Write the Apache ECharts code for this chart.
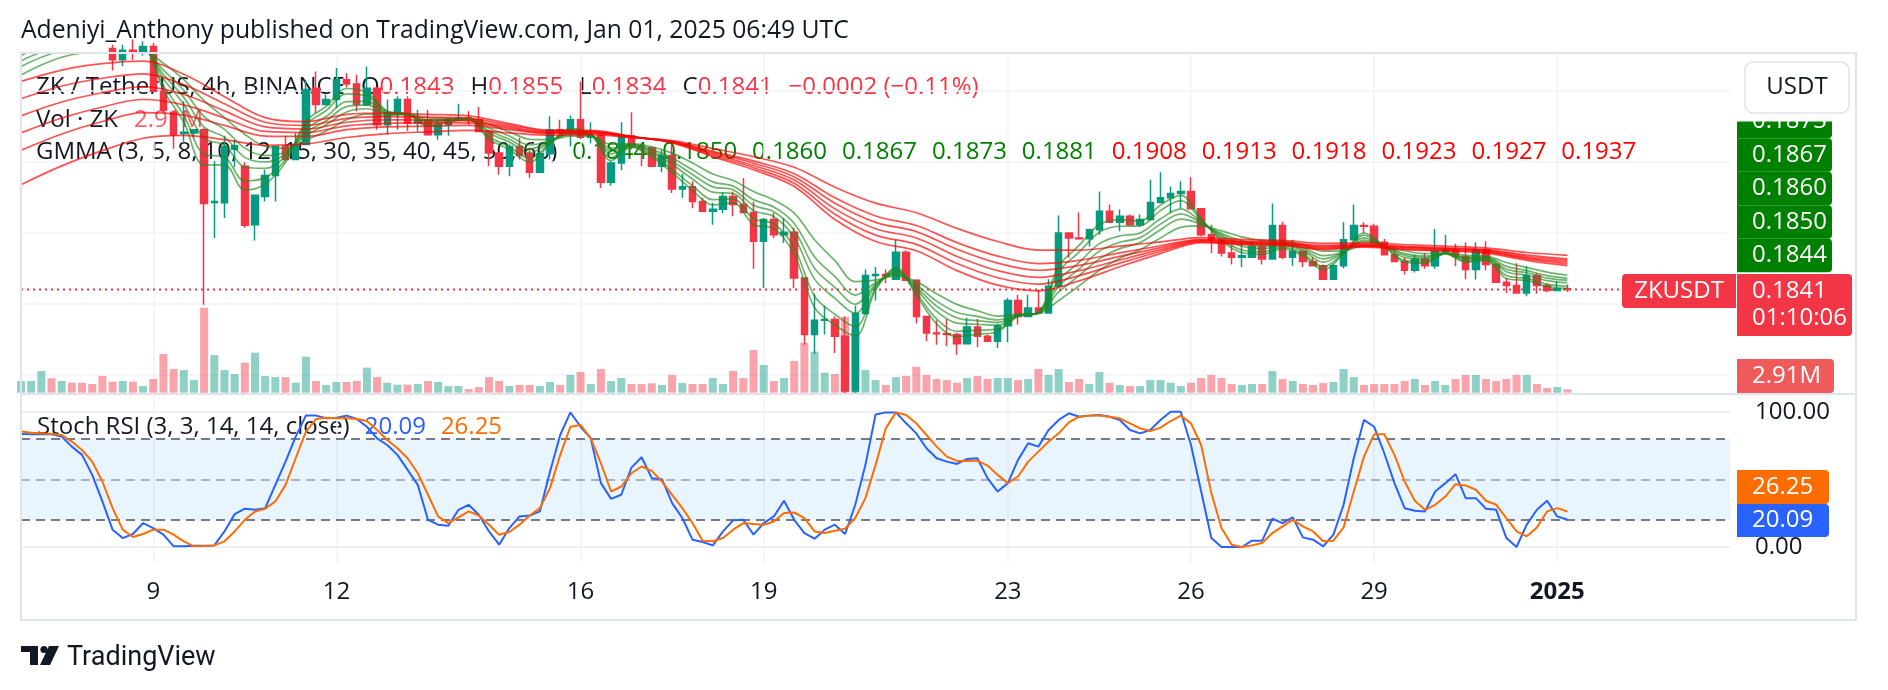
<!DOCTYPE html>
<html>
<head>
<meta charset="utf-8">
<title>ZK / TetherUS 4h</title>
<script src="https://cdn.jsdelivr.net/npm/echarts@6/dist/echarts.min.js"></script>
<style>
html,body{margin:0;padding:0;background:#ffffff;}
#chart{width:1888px;height:690px;}
</style>
</head>
<body>
<div id="chart"></div>
<script>
// ================= DATA =================
const firstBarTime = '2024-12-06T20:00:00Z';
const barHours = 4;
const rightPaddingBars = 16;
const tickLabels = {
  '2024-12-09 00:00':'9','2024-12-12 00:00':'12','2024-12-16 00:00':'16','2024-12-19 00:00':'19',
  '2024-12-23 00:00':'23','2024-12-26 00:00':'26','2024-12-29 00:00':'29','2025-01-01 00:00':'2025'
};

const opens = [
.2535,.2555,.2565,.2575,.2560,.2570,.2550,.2540,.2530,.2520,
.2488,.2515,.2508,.2525,.2399,.2340,.2280,.2282,.2291,.2086,
.2085,.2236,.2188,.2023,.2103,.2162,.2244,.2207,.2249,.2408,
.2362,.2376,.2432,.2420,.2362,.2408,.2305,.2338,.2376,.2310,
.2319,.2277,.2305,.2321,.2324,.2320,.2286,.2225,.2188,.2244,
.2223,.2171,.2223,.2291,.2288,.2319,.2270,.2275,.2143,.2197,
.2274,.2244,.2240,.2188,.2218,.2124,.2130,.2089,.2061,.2067,
.2103,.2080,.2058,.1977,.2038,.1995,.2002,.1873,.1714,.1754,
.1756,.1709,.1555,.1773,.1880,.1883,.1870,.1946,.1867,.1765,
.1718,.1716,.1714,.1688,.1735,.1709,.1695,.1739,.1810,.1765,
.1789,.1775,.1850,.2000,.1986,.1984,.2009,.2061,.2030,.2047,
.2023,.2038,.2086,.2099,.2111,.2117,.2068,.1995,.1981,.1944,
.1932,.1932,.1961,.1927,.2021,.1932,.1948,.1920,.1908,.1870,
.1908,.1981,.2021,.2019,.1974,.1939,.1920,.1895,.1927,.1908,
.1948,.1953,.1934,.1897,.1953,.1911,.1861,.1852,.1831,.1880,
.1852,.1838,.1843];
const highs = [
.2570,.2580,.2590,.2600,.2585,.2580,.2565,.2555,.2545,.2530,
.2530,.2545,.2540,.2535,.2420,.2345,.2371,.2293,.2295,.2202,
.2274,.2262,.2200,.2108,.2178,.2246,.2274,.2282,.2432,.2455,
.2390,.2465,.2450,.2446,.2469,.2412,.2376,.2385,.2385,.2347,
.2347,.2317,.2324,.2364,.2343,.2355,.2291,.2228,.2250,.2268,
.2240,.2228,.2329,.2319,.2331,.2427,.2312,.2280,.2202,.2312,
.2340,.2247,.2244,.2235,.2249,.2167,.2146,.2099,.2085,.2115,
.2117,.2155,.2089,.2042,.2056,.2042,.2015,.1875,.1829,.1795,
.1765,.1765,.1795,.1897,.1904,.1897,.1981,.1951,.1870,.1766,
.1754,.1758,.1718,.1761,.1758,.1714,.1745,.1817,.1826,.1826,
.1840,.1870,.2049,.2002,.2058,.2012,.2117,.2080,.2066,.2052,
.2052,.2150,.2171,.2131,.2146,.2157,.2070,.2023,.1983,.1967,
.1974,.1977,.1981,.2083,.2032,.1981,.1950,.1932,.1911,.1911,
.2030,.2080,.2030,.2026,.1983,.1951,.1932,.1939,.1944,.2011,
.1995,.1970,.1974,.1974,.1977,.1914,.1873,.1915,.1906,.1887,
.1859,.1864,.1855];
const lows = [
.2515,.2530,.2535,.2545,.2540,.2535,.2525,.2515,.2510,.2458,
.2470,.2488,.2500,.2395,.2340,.2237,.2258,.2268,.1798,.1986,
.2042,.2185,.2015,.1979,.2089,.2089,.2205,.2205,.2247,.2338,
.2360,.2352,.2410,.2343,.2358,.2291,.2277,.2291,.2287,.2286,
.2274,.2263,.2274,.2315,.2305,.2284,.2188,.2164,.2160,.2207,
.2155,.2168,.2207,.2277,.2244,.2265,.2252,.2127,.2133,.2177,
.2235,.2188,.2185,.2171,.2113,.2099,.2070,.2059,.2023,.2056,
.2047,.2056,.1899,.1845,.1986,.1972,.1845,.1685,.1660,.1714,
.1662,.1545,.1550,.1770,.1810,.1859,.1868,.1865,.1745,.1695,
.1685,.1681,.1657,.1686,.1679,.1693,.1676,.1692,.1742,.1763,
.1773,.1773,.1848,.1930,.1981,.1962,.1995,.2028,.2005,.2020,
.2018,.2035,.2084,.2056,.2070,.2066,.1991,.1944,.1934,.1911,
.1904,.1930,.1911,.1925,.1927,.1908,.1904,.1906,.1868,.1869,
.1901,.1980,.2000,.1972,.1937,.1918,.1883,.1889,.1899,.1899,
.1945,.1906,.1870,.1869,.1895,.1859,.1831,.1829,.1822,.1829,
.1833,.1836,.1834];
const closes = [
.2555,.2565,.2575,.2560,.2570,.2550,.2540,.2530,.2520,.2488,
.2515,.2508,.2525,.2399,.2346,.2277,.2284,.2291,.2083,.2089,
.2244,.2246,.2022,.2106,.2162,.2244,.2207,.2249,.2404,.2362,
.2376,.2432,.2420,.2362,.2408,.2305,.2338,.2376,.2310,.2316,
.2277,.2305,.2321,.2324,.2320,.2286,.2225,.2188,.2244,.2218,
.2171,.2223,.2291,.2288,.2319,.2270,.2275,.2143,.2197,.2274,
.2244,.2240,.2188,.2218,.2124,.2130,.2089,.2061,.2067,.2103,
.2080,.2058,.1977,.2038,.1995,.2002,.1873,.1714,.1754,.1756,
.1709,.1555,.1773,.1880,.1883,.1879,.1946,.1867,.1765,.1718,
.1716,.1714,.1688,.1735,.1709,.1695,.1739,.1810,.1765,.1789,
.1775,.1850,.2000,.1986,.1984,.2009,.2061,.2030,.2047,.2023,
.2038,.2086,.2099,.2111,.2117,.2068,.1995,.1981,.1944,.1932,
.1936,.1961,.1927,.2021,.1932,.1948,.1920,.1908,.1870,.1908,
.1981,.2021,.2019,.1974,.1939,.1920,.1895,.1927,.1908,.1948,
.1953,.1934,.1897,.1953,.1911,.1861,.1852,.1831,.1880,.1852,
.1838,.1843,.1841];
const volumesM = [
10.2,10.2,18.9,12.5,10.2,8.7,8.7,7.5,14.5,9.6,
10.2,9.6,5.8,11.9,33.6,20.6,19.7,11.0,74.0,32.8,
19.7,16.2,26.1,34.8,14.5,13.6,13.6,8.7,31.3,10.2,
6.7,9.3,9.3,10.2,21.8,13.6,8.7,7.0,7.0,7.5,
10.2,9.3,5.8,5.8,3.2,4.9,13.6,10.2,5.8,6.7,
6.7,5.8,9.3,6.7,15.4,18.0,7.5,20.6,10.2,12.8,
7.5,7.5,8.1,6.7,15.4,8.4,7.5,7.5,12.8,7.5,
18.9,12.8,37.1,24.1,10.2,12.8,27.6,43.5,35.7,17.4,
16.2,66.0,55.0,19.7,11.0,6.7,13.6,14.5,22.6,15.4,
11.9,11.0,8.7,12.8,14.5,11.9,12.8,12.8,11.0,11.9,
20.6,15.4,20.6,9.3,11.9,7.5,18.0,8.7,6.7,5.8,
5.8,11.0,11.0,8.7,5.8,8.7,12.8,15.4,12.8,7.5,
6.7,7.5,7.5,18.9,11.9,10.2,7.5,6.7,8.4,9.3,
20.6,13.6,6.7,7.5,7.5,7.5,10.2,11.9,6.7,10.2,
6.7,11.9,15.4,15.4,11.9,10.2,11.9,15.4,15.4,7.5,
4.1,4.9,2.91];

const stochK = [
83.5,83.3,83.3,83.3,81.6,74.2,68.1,53.3,33.7,12.8,
6.6,9.6,17.7,14.0,9.1,0.5,0.5,1.0,1.0,1.2,
11.5,24.3,28.3,27.5,28.7,45.9,63.1,81.6,97.1,97.1,
95.1,95.6,97.1,94.6,88.9,80.3,75.4,68.1,57.0,45.9,
20.1,16.5,15.7,27.5,31.2,23.8,11.5,1.7,14.0,22.6,
23.3,26.3,55.8,82.8,99.5,88.9,80.3,47.2,35.6,38.6,
58.7,66.3,50.9,50.1,32.4,21.4,5.4,3.7,1.2,11.5,
19.7,20.1,9.1,17.7,22.6,34.2,20.1,10.3,6.1,12.8,
16.5,9.6,31.2,60.7,98.0,99.5,99.5,91.4,84.0,73.0,
65.6,63.1,61.4,65.1,65.6,50.9,41.0,47.2,64.4,76.7,
74.2,86.5,93.9,98.8,96.3,97.1,97.5,96.3,93.9,86.5,
84.0,86.5,93.9,100,100,75.4,41.0,6.6,0,0,
0,4.7,4.7,20.9,17.7,21.9,7.1,5.4,0.5,9.1,
31.2,65.6,93.9,88.9,69.3,47.2,28.7,26.8,26.3,41.0,
47.2,53.8,36.1,36.1,28.3,27.5,6.6,0,16.5,27.5,
34.2,22.6,20.09];
const stochD = [
85.3,84.5,84.0,83.5,82.8,77.9,71.7,63.1,48.4,28.7,
12.8,7.4,9.6,12.8,12.8,9.1,4.2,0.5,0.7,1.2,
4.2,11.5,20.1,26.3,28.3,33.7,45.9,65.6,85.3,94.6,
95.6,95.1,95.1,94.6,93.1,86.5,79.1,73.0,65.6,54.5,
38.6,22.6,17.7,21.9,26.3,23.3,16.5,9.1,11.1,16.5,
23.3,28.7,43.5,68.1,88.9,90.2,80.3,61.9,41.0,44.7,
54.5,59.5,56.3,48.4,38.6,28.7,17.7,4.7,4.2,6.6,
12.8,17.7,17.0,16.5,18.9,25.1,25.5,21.4,11.5,10.3,
12.0,13.5,21.4,36.1,60.7,87.7,99.5,97.5,91.4,82.8,
74.2,66.8,63.6,63.6,63.9,60.2,53.3,47.2,52.1,63.1,
70.5,77.9,84.0,92.1,96.3,97.1,97.1,96.3,95.1,91.4,
87.7,85.7,88.2,93.1,97.1,91.4,75.4,39.8,14.0,1.7,
0,1.2,2.9,10.3,15.2,20.1,15.2,11.5,4.2,4.7,
14.5,41.0,66.8,83.3,83.3,68.1,48.4,34.2,27.5,31.2,
37.3,46.4,45.5,42.3,34.2,31.2,21.4,11.5,7.9,14.5,
26.3,28.7,26.25];

// GMMA short lines, read every 2 bars
const gmmaShortIdx = [0,2,4,6,8,10,12,14,16,18,20,22,24,26,28,30,32,34,36,38,40,42,44,46,48,50,52,54,56,58,60,62,64,66,68,70,72,74,76,78,80,82,84,86,88,90,92,94,96,98,100,102,104,106,108,110,112,114,116,118,120,122,124,126,128,130,132,134,136,138,140,142,144,146,148,150,152];
const gmma3 = [
.2540,.2559,.2565,.2549,.2530,.2512,.2518,.2402,.2312,.2192,
.2192,.2121,.2138,.2199,.2314,.2357,.2407,.2396,.2344,.2335,
.2301,.2312,.2319,.2264,.2235,.2199,.2251,.2294,.2279,.2204,
.2242,.2214,.2170,.2120,.2079,.2085,.2024,.2013,.1940,.1790,
.1741,.1710,.1839,.1902,.1825,.1744,.1708,.1715,.1722,.1765,
.1776,.1907,.1965,.2024,.2037,.2034,.2079,.2106,.2041,.1978,
.1945,.1940,.1956,.1936,.1896,.1942,.2000,.1963,.1918,.1915,
.1942,.1918,.1923,.1872,.1866,.1849,.1844];
const gmma5 = [
.2524,.2545,.2553,.2542,.2527,.2511,.2517,.2415,.2332,.2222,
.2214,.2147,.2156,.2206,.2305,.2345,.2392,.2386,.2342,.2335,
.2305,.2314,.2320,.2271,.2243,.2210,.2253,.2290,.2278,.2212,
.2244,.2219,.2179,.2133,.2094,.2096,.2040,.2026,.1959,.1822,
.1771,.1736,.1844,.1898,.1831,.1758,.1723,.1726,.1729,.1766,
.1776,.1891,.1946,.2002,.2019,.2020,.2063,.2091,.2037,.1983,
.1952,.1947,.1960,.1941,.1905,.1943,.1994,.1963,.1923,.1920,
.1942,.1921,.1925,.1880,.1872,.1856,.1850];
const gmma8 = [
.2500,.2523,.2536,.2531,.2522,.2511,.2515,.2434,.2362,.2267,
.2247,.2186,.2182,.2216,.2292,.2328,.2370,.2371,.2339,.2335,
.2311,.2317,.2321,.2282,.2256,.2226,.2256,.2285,.2276,.2223,
.2246,.2226,.2193,.2152,.2115,.2111,.2063,.2046,.1988,.1870,
.1816,.1774,.1851,.1892,.1841,.1779,.1746,.1743,.1740,.1768,
.1775,.1867,.1917,.1970,.1992,.2000,.2040,.2068,.2032,.1990,
.1963,.1956,.1965,.1949,.1918,.1945,.1986,.1963,.1931,.1926,
.1943,.1926,.1928,.1891,.1881,.1866,.1860];
const gmma10 = [
.2485,.2509,.2524,.2525,.2519,.2510,.2514,.2446,.2382,.2298,
.2270,.2213,.2200,.2222,.2283,.2316,.2356,.2360,.2337,.2334,
.2315,.2318,.2321,.2288,.2264,.2237,.2258,.2282,.2276,.2231,
.2248,.2231,.2202,.2165,.2130,.2122,.2078,.2060,.2008,.1901,
.1847,.1799,.1855,.1889,.1847,.1794,.1761,.1753,.1748,.1768,
.1774,.1850,.1899,.1949,.1974,.1987,.2025,.2054,.2029,.1994,
.1971,.1963,.1969,.1954,.1927,.1946,.1980,.1963,.1937,.1931,
.1943,.1929,.1930,.1898,.1888,.1873,.1867];
const gmma12 = [
.2469,.2495,.2513,.2518,.2516,.2510,.2513,.2459,.2402,.2328,
.2292,.2239,.2218,.2229,.2274,.2305,.2341,.2350,.2335,.2334,
.2319,.2320,.2322,.2296,.2273,.2248,.2260,.2278,.2275,.2239,
.2250,.2236,.2211,.2178,.2144,.2132,.2094,.2073,.2027,.1933,
.1877,.1825,.1860,.1885,.1854,.1808,.1776,.1765,.1755,.1770,
.1774,.1834,.1880,.1927,.1956,.1973,.2009,.2039,.2025,.1999,
.1978,.1969,.1973,.1959,.1936,.1947,.1975,.1963,.1942,.1935,
.1944,.1932,.1932,.1906,.1894,.1880,.1873];
const gmma15 = [
.2445,.2473,.2495,.2507,.2511,.2509,.2511,.2478,.2432,.2373,
.2325,.2278,.2244,.2239,.2261,.2287,.2319,.2335,.2332,.2334,
.2325,.2323,.2323,.2306,.2285,.2264,.2263,.2273,.2273,.2250,
.2252,.2243,.2225,.2197,.2166,.2148,.2117,.2093,.2056,.1981,
.1922,.1863,.1867,.1879,.1863,.1829,.1799,.1781,.1766,.1771,
.1773,.1810,.1851,.1895,.1929,.1953,.1986,.2016,.2020,.2006,
.1989,.1979,.1978,.1967,.1949,.1949,.1966,.1963,.1950,.1942,
.1944,.1937,.1935,.1917,.1903,.1890,.1881];

// GMMA long lines, read every 4 bars
const gmmaLongIdx = [0,4,8,12,16,20,24,28,32,36,40,44,48,52,56,60,64,68,72,76,80,84,88,92,96,100,104,108,112,116,120,124,128,132,136,140,144,148,152];
const gmma30 = [.2427,.2459,.2477,.2484,.2447,.2384,.2325,.2314,.2334,.2338,.2334,.2330,.2308,.2289,.2289,.2272,.2254,.2215,.2178,.2131,.2038,.1976,.1950,.1894,.1853,.1837,.1865,.1905,.1942,.1973,.1967,.1965,.1953,.1960,.1953,.1949,.1943,.1923,.1908];
const gmma35 = [.2378,.2414,.2436,.2448,.2418,.2364,.2312,.2303,.2323,.2328,.2326,.2323,.2304,.2287,.2287,.2271,.2255,.2219,.2184,.2140,.2053,.1994,.1968,.1914,.1874,.1856,.1880,.1915,.1948,.1975,.1970,.1967,.1956,.1962,.1955,.1951,.1946,.1927,.1913];
const gmma40 = [.2330,.2369,.2395,.2412,.2390,.2344,.2299,.2293,.2312,.2319,.2318,.2316,.2299,.2284,.2285,.2271,.2256,.2223,.2190,.2149,.2068,.2012,.1986,.1934,.1894,.1875,.1894,.1924,.1953,.1978,.1972,.1970,.1959,.1964,.1958,.1954,.1948,.1930,.1918];
const gmma45 = [.2282,.2324,.2355,.2376,.2361,.2324,.2286,.2283,.2302,.2309,.2310,.2310,.2295,.2282,.2283,.2271,.2257,.2227,.2197,.2158,.2084,.2030,.2004,.1954,.1915,.1895,.1909,.1934,.1959,.1980,.1975,.1972,.1962,.1966,.1960,.1956,.1951,.1934,.1923];
const gmma50 = [.2233,.2279,.2314,.2339,.2332,.2303,.2273,.2272,.2291,.2299,.2301,.2303,.2291,.2280,.2281,.2270,.2258,.2230,.2203,.2167,.2099,.2048,.2021,.1973,.1935,.1914,.1923,.1944,.1964,.1982,.1977,.1974,.1965,.1968,.1962,.1958,.1953,.1938,.1927];
const gmma60 = [.2136,.2189,.2232,.2267,.2275,.2263,.2247,.2251,.2269,.2280,.2285,.2289,.2282,.2275,.2277,.2269,.2260,.2238,.2215,.2185,.2129,.2084,.2057,.2013,.1976,.1952,.1952,.1963,.1975,.1987,.1982,.1979,.1971,.1972,.1967,.1963,.1958,.1945,.1937];
const gmmaPeriods = [3,5,8,10,12,15,30,35,40,45,50,60];
const timeToClose = '01:10:06';

// ================= BUILD =================
const FONT = '"Open Sans", "Noto Sans", sans-serif';
const TXT = '#131722';
const UP = '#089981', DOWN = '#f23645';
const GREEN_L = '#008000', RED_L = '#ff0000';
const last = opens.length - 1;

const nCats = opens.length + rightPaddingBars;
const cats = [];
const t0 = Date.parse(firstBarTime);
for (let i = 0; i < nCats; i++) {
  cats.push(new Date(t0 + i * barHours * 3600e3).toISOString().slice(0, 16).replace('T', ' '));
}

const fmt4 = v => v.toFixed(4);
const minus = s => s.replace('-', '\u2212');
const lastO = opens[last], lastH = highs[last], lastL = lows[last], lastC = closes[last];
const chg = lastC - closes[last - 1];
const chgPct = chg / closes[last - 1] * 100;
const chgStr = minus(chg.toFixed(4)) + ' (' + minus(chgPct.toFixed(2)) + '%)';
const lastVol = volumesM[last].toFixed(2) + 'M';
const shortSets = [gmma3, gmma5, gmma8, gmma10, gmma12, gmma15];
const longSets = [gmma30, gmma35, gmma40, gmma45, gmma50, gmma60];
const shortLast = shortSets.map(a => a[a.length - 1]);
const longLast = longSets.map(a => a[a.length - 1]);

const L = 21, PW = 1709.2;
const gridBase = {left: L, width: PW, outerBoundsMode: 'none', containLabel: false};

const xAxes = [0,1,2,3,4].map(g => ({
  type: 'category', gridIndex: g, data: cats, boundaryGap: false,
  axisLine: {show: false}, axisTick: {show: false}, axisLabel: {show: false}, splitLine: {show: false}
}));
xAxes[4].splitLine = {show: true, interval: (i, v) => v in tickLabels, lineStyle: {color: '#f0f3fa', width: 1.5}};
xAxes[3].axisLabel = {
  show: true, interval: (i, v) => v in tickLabels,
  formatter: v => tickLabels[v] === '2025' ? '{b|2025}' : tickLabels[v],
  color: TXT, fontSize: 24, fontFamily: FONT, margin: 45, verticalAlign: 'middle',
  rich: {b: {fontWeight: 'bold', fontSize: 24, fontFamily: FONT, color: TXT}}
};

function gLine(vals, idx, color, opacity, z) {
  return {
    type: 'line', xAxisIndex: 0, yAxisIndex: 0, silent: true,
    data: idx.map((x, k) => [x, vals[k]]), smooth: 0.35, showSymbol: false, symbol: 'none',
    lineStyle: {color: color, width: 1.7, opacity: opacity}, z: z
  };
}

const series = [
  {
    type: 'bar', xAxisIndex: 1, yAxisIndex: 1, barWidth: 8, silent: true, z: 1,
    data: volumesM.map((v, i) => ({value: v, itemStyle: {color: closes[i] >= opens[i] ? 'rgba(8,153,129,0.45)' : 'rgba(242,54,69,0.45)'}}))
  },
  {
    // last-price dotted line
    type: 'line', xAxisIndex: 0, yAxisIndex: 0, silent: true, z: 2, showSymbol: false, symbol: 'none',
    data: [[0, lastC], [nCats - 1, lastC]],
    lineStyle: {color: DOWN, type: [2, 4], width: 2}
  },
  {
    type: 'candlestick', xAxisIndex: 0, yAxisIndex: 0, barWidth: 7, silent: true, z: 3,
    data: opens.map((o, i) => [o, closes[i], lows[i], highs[i]]),
    itemStyle: {color: UP, color0: DOWN, borderColor: UP, borderColor0: DOWN, borderWidth: 1.5}
  }
];
shortSets.forEach(a => series.push(gLine(a, gmmaShortIdx, '#1e8c1e', 0.65, 4)));
longSets.forEach(a => series.push(gLine(a, gmmaLongIdx, RED_L, 0.68, 5)));
series.push({
  type: 'line', xAxisIndex: 3, yAxisIndex: 3, data: stochK, showSymbol: false, symbol: 'none', silent: true, clip: false,
  lineStyle: {color: '#2962ff', width: 2}, z: 6,
  markArea: {silent: true, itemStyle: {color: 'rgba(33,150,243,0.1)'}, data: [[{yAxis: 20}, {yAxis: 80}]]},
  markLine: {
    silent: true, symbol: ['none', 'none'], label: {show: false}, animation: false,
    data: [
      {yAxis: 80, lineStyle: {color: '#787b86', type: [9, 6], width: 2}},
      {yAxis: 50, lineStyle: {color: 'rgba(120,123,134,0.55)', type: [9, 6], width: 2}},
      {yAxis: 20, lineStyle: {color: '#787b86', type: [9, 6], width: 2}}
    ]
  }
});
series.push({
  type: 'line', xAxisIndex: 3, yAxisIndex: 3, data: stochD, showSymbol: false, symbol: 'none', silent: true, clip: false,
  lineStyle: {color: '#ff6d00', width: 2}, z: 7
});

// ---------- graphics: texts & labels ----------
const G = [];
const rt = (extra) => Object.assign({fontSize: 24, fontFamily: FONT}, extra);
G.push({type: 'text', x: 21, y: 31, z: 0, style: {text: 'Adeniyi_Anthony published on TradingView.com, Jan 01, 2025 06:49 UTC', fill: TXT, fontSize: 24.7, fontFamily: FONT, verticalAlign: 'middle'}});

const line1 = '{k|ZK / TetherUS, 4h, BINANCE}{s| }{k|O}{r|' + fmt4(lastO) + '}{s| }{k|H}{r|' + fmt4(lastH) +
  '}{s| }{k|L}{r|' + fmt4(lastL) + '}{s| }{k|C}{r|' + fmt4(lastC) + '}{s| }{r|' + chgStr + '}';
const line2 = '{k|Vol \u00b7 ZK}{s| }{v|' + lastVol + '}';
let line3 = '{k|GMMA (' + gmmaPeriods.join(', ') + ')}';
shortLast.forEach(v => { line3 += '{s| }{g|' + fmt4(v) + '}'; });
longLast.forEach(v => { line3 += '{s| }{rr|' + fmt4(v) + '}'; });
const line4 = '{k|Stoch RSI (3, 3, 14, 14, close)}{s| }{b|' + stochK[last].toFixed(2) + '}{s| }{o|' + stochD[last].toFixed(2) + '}';
const richAll = {
  k: rt({fill: TXT}), s: rt({width: 16}), r: rt({fill: DOWN}), v: rt({fill: 'rgba(242,54,69,0.8)'}),
  g: rt({fill: GREEN_L}), rr: rt({fill: RED_L}), b: rt({fill: '#2962ff'}), o: rt({fill: '#ff6d00'})
};
const richL3 = Object.assign({}, richAll, {s: rt({width: 15})});
[[line1, 87, richAll], [line2, 120, richAll], [line3, 152, richL3]].forEach(([t, y, r]) => {
  G.push({type: 'text', x: 36, y: y, z: 0, style: {text: t, rich: r, fontSize: 24, fontFamily: FONT, verticalAlign: 'middle'}});
});
G.push({type: 'text', x: 37, y: 427, z: 0, style: {text: line4, rich: richL3, fontSize: 24, fontFamily: FONT, verticalAlign: 'middle'}});

// frame and pane separator
G.push({type: 'rect', z: 50, shape: {x: 21, y: 53, width: 1835, height: 567}, style: {fill: 'none', stroke: '#e0e3eb', lineWidth: 2}});
G.push({type: 'line', z: 50, shape: {x1: 21, y1: 394, x2: 1856, y2: 394}, style: {stroke: '#e0e3eb', lineWidth: 2}});

// right price-scale labels
function box(x, y, w, h, fill, r) { return {type: 'rect', z: 100, shape: {x: x, y: y, width: w, height: h, r: r || 0}, style: {fill: fill}}; }
function tx(x, y, text, color, extra) {
  return {type: 'text', z: 101, x: x, y: y, style: Object.assign({text: text, fill: color || '#ffffff', fontSize: 24, fontFamily: FONT, verticalAlign: 'middle', align: 'left'}, extra || {})};
}
const greenShown = shortLast.slice(0, 5).reverse(); // top to bottom: 0.1873 .. 0.1844
greenShown.forEach((v, k) => {
  const cy = 121.5 + k * 33.5;
  G.push(box(1737, cy - 16.75, 95, 33.5, GREEN_L, [0, 4, 4, 0]));
  G.push(tx(1752, cy, fmt4(v)));
});
G.push({type: 'rect', z: 102, shape: {x: 1736, y: 100, width: 118, height: 21.5}, style: {fill: '#ffffff'}});
G.push({type: 'rect', z: 103, shape: {x: 1745, y: 62, width: 104, height: 51, r: 8}, style: {fill: '#ffffff', stroke: '#e0e3eb', lineWidth: 1.5}});
G.push(tx(1797, 87.5, 'USDT', TXT, {align: 'center'}));
G[G.length - 1].z = 104;

G.push(box(1622, 274, 114, 34, DOWN, [4, 0, 0, 4]));
G.push(tx(1679, 291, 'ZKUSDT', '#ffffff', {align: 'center'}));
G.push(box(1737, 274, 115, 62, DOWN, [0, 4, 4, 0]));
G.push(tx(1752, 291, fmt4(lastC)));
G.push(tx(1752, 318, timeToClose));
G.push(box(1737, 359, 97, 34, '#ef5b5b', [0, 4, 4, 0]));
G.push(tx(1752, 376, lastVol));

G.push(tx(1755, 412, '100.00', TXT));
G.push(tx(1755, 547, '0.00', TXT));
G.push(box(1737, 470, 92, 34, '#ff6d00', [0, 4, 4, 0]));
G.push(tx(1752, 487, stochD[last].toFixed(2)));
G.push(box(1737, 504, 92, 33, '#2962ff', [0, 4, 4, 0]));
G.push(tx(1752, 520.5, stochK[last].toFixed(2)));

// TradingView logo
G.push({type: 'rect', z: 10, shape: {x: 21, y: 646, width: 17, height: 6}, style: {fill: TXT}});
G.push({type: 'rect', z: 10, shape: {x: 30, y: 646, width: 8, height: 19}, style: {fill: TXT}});
G.push({type: 'circle', z: 10, shape: {cx: 44, cy: 649.5, r: 3.6}, style: {fill: TXT}});
G.push({type: 'polygon', z: 10, shape: {points: [[49, 646], [59, 646], [50, 665], [40, 665]]}, style: {fill: TXT}});
G.push({type: 'text', z: 10, x: 67, y: 658, style: {text: 'TradingView', fill: TXT, fontSize: 27, fontFamily: 'Roboto, sans-serif', verticalAlign: 'middle'}});

const option = {
  animation: false,
  backgroundColor: '#ffffff',
  grid: [
    Object.assign({top: 53, height: 341}, gridBase),
    Object.assign({top: 53, height: 339.7}, gridBase),
    Object.assign({top: 91, height: 284}, gridBase),
    Object.assign({top: 411.7, height: 135.3}, gridBase),
    Object.assign({top: 53, height: 510}, gridBase)
  ],
  xAxis: xAxes,
  yAxis: [
    {type: 'value', gridIndex: 0, min: 0.154648, max: 0.250704, show: false},
    {type: 'value', gridIndex: 1, min: 0, max: 295.5, show: false},
    {type: 'value', gridIndex: 2, min: 0.16, max: 0.24, interval: 0.02, axisLine: {show: false}, axisTick: {show: false}, axisLabel: {show: false},
      splitLine: {show: true, lineStyle: {color: '#f0f3fa', width: 1.5}}},
    {type: 'value', gridIndex: 3, min: 0, max: 100, interval: 100, axisLine: {show: false}, axisTick: {show: false}, axisLabel: {show: false},
      splitLine: {show: true, lineStyle: {color: '#eceef2', width: 2}}},
    {type: 'value', gridIndex: 4, min: 0, max: 1, show: false}
  ],
  series: series,
  graphic: {elements: G}
};

const chart = echarts.init(document.getElementById('chart'), null, {renderer: 'canvas', width: 1888, height: 690});
chart.setOption(option);
</script>
</body>
</html>
